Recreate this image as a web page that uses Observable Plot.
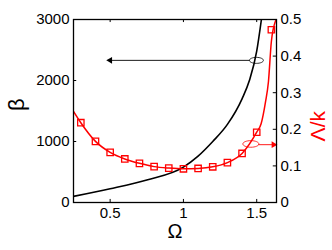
<!DOCTYPE html>
<html>
<head>
<meta charset="utf-8">
<script src="https://cdn.jsdelivr.net/npm/d3@7"></script>
<script src="https://cdn.jsdelivr.net/npm/@observablehq/plot@0.6"></script>
<style>
  html, body { margin: 0; padding: 0; background: #fff; }
  #chart svg { display: block; }
</style>
</head>
<body>
<div id="chart"></div>
<script>
// ---- data ----
// Red series Λ/k (right axis): markers
const omegaMarkers  = [0.3, 0.4, 0.5, 0.6, 0.7, 0.8, 0.9, 1.0, 1.1, 1.2, 1.3, 1.4, 1.5, 1.6];
const lambdaMarkers = [0.218, 0.167, 0.137, 0.119, 0.107, 0.098, 0.094, 0.092, 0.093, 0.0975, 0.109, 0.134, 0.192, 0.472];
// Red series Λ/k: continuous curve
const omegaRedLine  = [0.25, 0.3, 0.4, 0.5, 0.6, 0.7, 0.8, 0.9, 1.0, 1.1, 1.2, 1.3, 1.4, 1.5, 1.53, 1.56, 1.58, 1.6, 1.632];
const lambdaRedLine = [0.249, 0.218, 0.167, 0.137, 0.119, 0.107, 0.098, 0.094, 0.092, 0.093, 0.0975, 0.109, 0.134, 0.192, 0.215, 0.275, 0.33, 0.44, 0.5];
// Black series β (left axis)
const omegaBeta = [0.25, 0.5, 0.75, 1.0, 1.1, 1.2, 1.3, 1.4, 1.45, 1.5, 1.532];
const betaVals  = [100, 225, 370, 580, 760, 1000, 1280, 1700, 2000, 2480, 3000];

// axes
const xTicks = [0.5, 1, 1.5];
const betaTicks = [0, 1000, 2000, 3000];
const lambdaTicks = [0, 0.1, 0.2, 0.3, 0.4, 0.5];
const xDomain = [0.25, 1.635];
const betaDomain = [0, 3000];
const lambdaMax = 0.5;
const K = betaDomain[1] / lambdaMax; // maps Λ/k onto β scale

// annotations (data units)
const blackEllipse = [{x: 1.498, beta: 2330}];
const blackArrow   = [{x1: 1.452, x2: 0.49, beta: 2330}];
const blackHead    = [{x: 0.50, beta: 2330}];
const redEllipse   = [{x: 1.46, lam: 0.160}];
const redArrow     = [{x1: 1.511, x2: 1.615, lam: 0.158}];
const redHead      = [{x: 1.615, lam: 0.158}];

const betaLine = omegaBeta.map((x, i) => ({x, y: betaVals[i]}));
const redLine = omegaRedLine.map((x, i) => ({x, y: lambdaRedLine[i] * K}));
const redPts = omegaMarkers.map((x, i) => ({x, y: lambdaMarkers[i] * K}));

function ellipseSymbol(rx, ry) {
  const k = 0.5523;
  return {
    draw(ctx) {
      ctx.moveTo(rx, 0);
      ctx.bezierCurveTo(rx, k * ry, k * rx, ry, 0, ry);
      ctx.bezierCurveTo(-k * rx, ry, -rx, k * ry, -rx, 0);
      ctx.bezierCurveTo(-rx, -k * ry, -k * rx, -ry, 0, -ry);
      ctx.bezierCurveTo(k * rx, -ry, rx, -k * ry, rx, 0);
      ctx.closePath();
    }
  };
}

const tickLenX = 0.022;   // ~3px in Ω
const tickLenY = 50;      // ~3px in β

const plot = Plot.plot({
  width: 332,
  height: 250,
  marginLeft: 73,
  marginRight: 56,
  marginTop: 19,
  marginBottom: 48,
  style: {fontFamily: "Arial, 'Liberation Sans', Helvetica, sans-serif", fontSize: "15px", color: "black", background: "white"},
  x: {domain: xDomain},
  y: {domain: betaDomain},
  marks: [
    // black β curve
    Plot.line(betaLine, {x: "x", y: "y", stroke: "black", strokeWidth: 1.6, curve: "monotone-x", clip: true}),
    // red Λ/k curve and markers
    Plot.line(redLine, {x: "x", y: "y", stroke: "red", strokeWidth: 1.5, curve: "monotone-x", clip: true}),
    Plot.dot(redPts, {x: "x", y: "y", symbol: "square", r: 3.6, stroke: "red", fill: "none", strokeWidth: 1.3}),
    // annotations
    Plot.link(blackArrow, {x1: "x1", x2: "x2", y1: "beta", y2: "beta", stroke: "black", strokeWidth: 0.9}),
    Plot.dot(blackHead, {x: "x", y: "beta", symbol: "triangle2", r: 3.2, rotate: -90, fill: "black", stroke: "none"}),
    Plot.dot(blackEllipse, {x: "x", y: "beta", symbol: ellipseSymbol(7, 3), stroke: "black", fill: "none", strokeWidth: 0.8}),
    Plot.link(redArrow, {x1: "x1", x2: "x2", y1: d => d.lam * K, y2: d => d.lam * K, stroke: "red", strokeWidth: 0.9}),
    Plot.dot(redHead, {x: "x", y: d => d.lam * K, symbol: "triangle2", r: 3.2, rotate: 90, fill: "red", stroke: "none"}),
    Plot.dot(redEllipse, {x: "x", y: d => d.lam * K, symbol: ellipseSymbol(8, 3.3), stroke: "red", fill: "none", strokeWidth: 0.8}),
    // frame
    Plot.frame({stroke: "black", strokeWidth: 1.3}),
    // inward ticks
    Plot.ruleX(xTicks, {x: d => d, y1: 0, y2: tickLenY, stroke: "black"}),
    Plot.ruleX(xTicks, {x: d => d, y1: betaDomain[1], y2: betaDomain[1] - tickLenY, stroke: "black"}),
    Plot.ruleY(betaTicks, {y: d => d, x1: xDomain[0], x2: xDomain[0] + tickLenX, stroke: "black"}),
    Plot.ruleY(lambdaTicks, {y: d => d * K, x1: xDomain[1] - tickLenX, x2: xDomain[1], stroke: "black"}),
    // axes (labels only)
    Plot.axisX(xTicks, {anchor: "bottom", tickSize: 0, tickPadding: 5, label: null, tickFormat: d => String(d)}),
    Plot.axisY(betaTicks, {anchor: "left", tickSize: 0, tickPadding: 4, label: null, tickFormat: d => String(d)}),
    Plot.axisY(lambdaTicks.map(v => v * K), {anchor: "right", tickSize: 0, tickPadding: 4, label: null, tickFormat: d => String(+(d / K).toFixed(1))}),
    // axis titles
    Plot.text(["β"], {frameAnchor: "left", dx: -57, rotate: -90, fontSize: 22, fill: "black"}),
    Plot.text(["Ω"], {frameAnchor: "bottom", dy: 35, fontSize: 20, fill: "black"}),
    Plot.text(["Λ/k"], {frameAnchor: "right", dx: 42, rotate: -90, fontSize: 21, fill: "red"})
  ]
});
document.getElementById("chart").appendChild(plot);
</script>
</body>
</html>
